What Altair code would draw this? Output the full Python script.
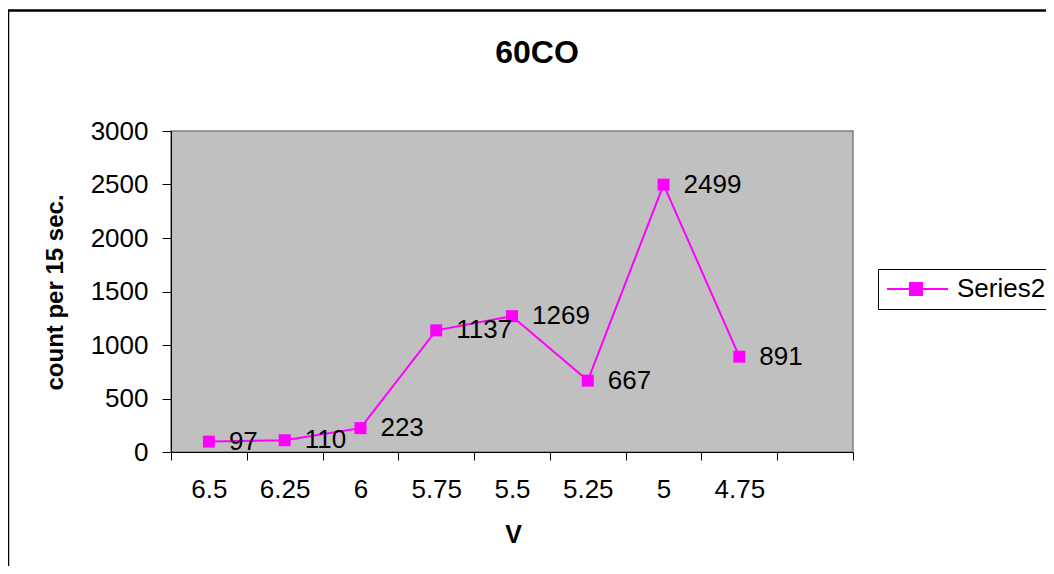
import altair as alt
import pandas as pd

# ---- data ----
categories = ["6.5", "6.25", "6", "5.75", "5.5", "5.25", "5", "4.75"]
counts = [97, 110, 223, 1137, 1269, 667, 2499, 891]
series_name = "Series2"
x_domain = categories + [" "]          # ninth, empty category slot
y_ticks = [0, 500, 1000, 1500, 2000, 2500, 3000]

df = pd.DataFrame({
    "V": categories,
    "count": counts,
    "series": [series_name] * len(categories),
})

FONT = "Liberation Sans"
MAG = "#FF00FF"

x_enc = alt.X(
    "V:N",
    sort=x_domain,
    bandPosition=0.5,
    scale=alt.Scale(type="band", domain=x_domain, paddingInner=0, paddingOuter=0),
    axis=alt.Axis(
        title="V", labelAngle=0, tickBand="extent", tickSize=8,
        labelPadding=16, labelFontSize=26, labelFont=FONT,
        titleFont=FONT, titleFontSize=25, titleFontWeight="bold",
        titleX=342, titleY=82, titleBaseline="middle", titleAlign="center",
    ),
)
y_enc = alt.Y(
    "count:Q",
    scale=alt.Scale(domain=[0, 3000], nice=False),
    axis=alt.Axis(
        title="count per 15 sec.", values=y_ticks, format="d", tickSize=9,
        labelPadding=14, labelFontSize=26, labelFont=FONT,
        titleFont=FONT, titleFontSize=24, titleFontWeight="bold",
        titleAngle=270, titleX=-116, titleY=161,
        titleBaseline="middle", titleAlign="center",
    ),
)

color_enc = alt.Color(
    "series:N",
    scale=alt.Scale(domain=[series_name], range=[MAG]),
    legend=alt.Legend(
        title=None, orient="none", legendX=707, legendY=138,
        symbolType="M-1.83,0H8.33M2,-1H4V1H2Z",
        symbolSize=144, symbolStrokeWidth=2,
        symbolStrokeColor=MAG, symbolFillColor=MAG,
        labelFont=FONT, labelFontSize=26, labelColor="black", labelOffset=46,
        padding=7, strokeColor="black", fillColor="white", cornerRadius=0,
    ),
)

base = alt.Chart(df).encode(x=x_enc, y=y_enc)

line = base.mark_line(strokeWidth=2).encode(color=color_enc)
points = base.mark_point(shape="square", filled=True, size=144, opacity=1).encode(color=color_enc)
labels = base.mark_text(
    align="left", baseline="middle", dx=20, fontSize=26, font=FONT, color="black"
).encode(text="count:Q")

frame = alt.Chart(pd.DataFrame({"f": [0]})).mark_rect(
    fill="transparent", stroke="black", strokeWidth=2.5, clip=False
).encode(
    x=alt.value(-163), y=alt.value(-120.5),
    x2=alt.value(3000), y2=alt.value(3000),
)

chart = alt.layer(frame, line, points, labels).properties(
    width=682,
    height=321,
    background="white",
    title=alt.TitleParams(
        "60CO", font=FONT, fontSize=32, fontWeight="bold", color="black",
        anchor="middle", frame="group", dx=25, offset=-86, baseline="alphabetic",
    ),
    autosize=alt.AutoSizeParams(type="none"),
    padding={"left": 163, "top": 123, "right": 193, "bottom": 114},
).configure_view(
    fill="#C0C0C0", stroke="#808080", strokeWidth=1.5
).configure_axis(
    domainColor="black", tickColor="black", labelColor="black",
    titleColor="black", grid=False, domainWidth=1, tickWidth=1,
)

chart.save("out.html", embed_options={"renderer": "svg", "actions": False})
